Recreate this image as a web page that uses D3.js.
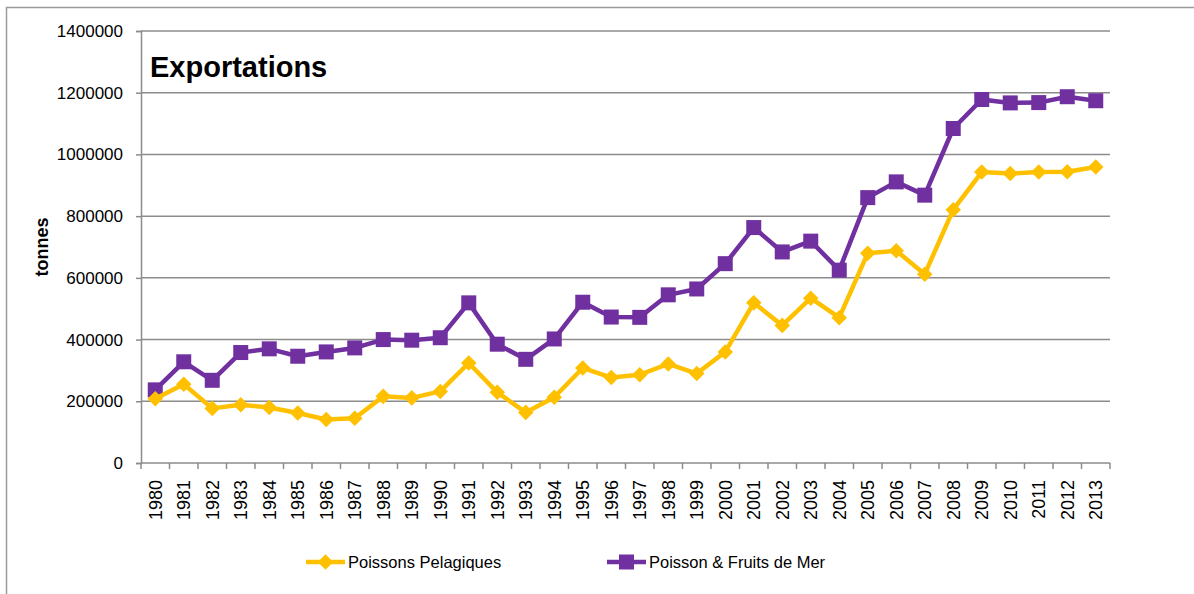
<!DOCTYPE html>
<html>
<head>
<meta charset="utf-8">
<script src="https://cdn.jsdelivr.net/npm/d3@7"></script>
<style>
  body { margin: 0; background: #fff; }
  svg text { font-family: "Liberation Sans", Arial, sans-serif; fill: #000; }
</style>
</head>
<body>
<svg id="chart" width="1194" height="594"></svg>
<script>
const years = d3.range(1980, 2014).map(String)

const pelagiques = [
  208000, 255000, 177000, 189000, 180000, 162000, 141000, 145000, 216000, 211000,
  232000, 324000, 229000, 164000, 213000, 308000, 277000, 286000, 321000, 290000,
  360000, 519000, 446000, 534000, 471000, 680000, 688000, 612000, 821000, 943000,
  938000, 943000, 944000, 959000
]

const fruitsDeMer = [
  237000, 328000, 268000, 358000, 370000, 346000, 360000, 373000, 400000, 398000,
  406000, 519000, 385000, 336000, 402000, 521000, 473000, 472000, 545000, 564000,
  646000, 763000, 684000, 719000, 625000, 860000, 911000, 868000, 1084000, 1178000,
  1167000, 1168000, 1187000, 1174000
]

const yTicks = [0, 200000, 400000, 600000, 800000, 1000000, 1200000, 1400000]

const seriesNames = ["Poissons Pelagiques", "Poisson & Fruits de Mer"]
const colors = ["#FFC000", "#7030A0"]

const svg = d3.select("#chart")
const margin = { left: 141, top: 31, right: 84, bottom: 131 }
const width = 1194 - margin.left - margin.right
const height = 594 - margin.top - margin.bottom

// chart frame
svg.append("rect")
    .attr("x", 6.5).attr("y", 7.5)
    .attr("width", 1200).attr("height", 600)
    .attr("fill", "none").attr("stroke", "#9a9a9a").attr("stroke-width", 1.5)

const g = svg.append("g").attr("transform", `translate(${margin.left},${margin.top})`)

const x = d3.scaleBand().domain(years).range([0, width])
const y = d3.scaleLinear().domain([0, 1400000]).range([height, 0])

// gridlines
g.append("g")
    .selectAll("line")
    .data(yTicks.slice(1))
    .join("line")
    .attr("x1", 0).attr("x2", width)
    .attr("y1", d => y(d)).attr("y2", d => y(d))
    .attr("stroke", "#8c8c8c").attr("stroke-width", 1.5)

// y axis
const yAxis = g.append("g")
    .call(d3.axisLeft(y).tickValues(yTicks).tickSize(5).tickPadding(13).tickFormat(d => d))
yAxis.select(".domain").attr("stroke", "#8c8c8c").attr("stroke-width", 1.5)
yAxis.selectAll(".tick line").attr("stroke", "#8c8c8c").attr("stroke-width", 1.5)
yAxis.selectAll(".tick text").attr("font-size", 17).attr("font-family", null)

// x axis
const xAxis = g.append("g").attr("transform", `translate(0,${height})`)
xAxis.append("line")
    .attr("x1", 0).attr("x2", width)
    .attr("stroke", "#8c8c8c").attr("stroke-width", 1.5)
xAxis.selectAll(".xtick")
    .data(years.concat(["end"]))
    .join("line")
    .attr("class", "xtick")
    .attr("x1", d => d === "end" ? width : x(d))
    .attr("x2", d => d === "end" ? width : x(d))
    .attr("y1", 0).attr("y2", 6)
    .attr("stroke", "#8c8c8c").attr("stroke-width", 1.5)
xAxis.selectAll(".xlabel")
    .data(years)
    .join("text")
    .attr("class", "xlabel")
    .attr("transform", d => `translate(${x(d) + x.bandwidth() / 2},17) rotate(-90)`)
    .attr("text-anchor", "end")
    .attr("dy", "0.35em")
    .attr("font-size", 18)
    .text(d => d)

// axis title
svg.append("text")
    .attr("transform", "translate(48,247) rotate(-90)")
    .attr("text-anchor", "middle")
    .attr("font-size", 18)
    .attr("font-weight", "bold")
    .text("tonnes")

// chart title
svg.append("text")
    .attr("x", 150).attr("y", 77)
    .attr("font-size", 29)
    .attr("font-weight", "bold")
    .text("Exportations")

const line = d3.line()
    .x((d, i) => x(years[i]) + x.bandwidth() / 2)
    .y(d => y(d))

const diamond = d3.symbol().type(d3.symbolSquare).size(121)
const square = d3.symbol().type(d3.symbolSquare).size(225)

function drawSeries(values, color, isDiamond) {
    g.append("path")
        .datum(values)
        .attr("fill", "none")
        .attr("stroke", color)
        .attr("stroke-width", 4.5)
        .attr("stroke-linejoin", "round")
        .attr("d", line)
    g.append("g")
        .selectAll("path")
        .data(values)
        .join("path")
        .attr("transform", (d, i) => `translate(${x(years[i]) + x.bandwidth() / 2},${y(d)})` + (isDiamond ? " rotate(45)" : ""))
        .attr("d", isDiamond ? diamond : square)
        .attr("fill", color)
}

drawSeries(fruitsDeMer, colors[1], false)
drawSeries(pelagiques, colors[0], true)

// legend
const legendItems = [
    { name: seriesNames[0], color: colors[0], x: 306, diamond: true },
    { name: seriesNames[1], color: colors[1], x: 607, diamond: false }
]
const legend = svg.append("g").attr("transform", "translate(0,562)")
legendItems.forEach(item => {
    legend.append("line")
        .attr("x1", item.x).attr("x2", item.x + 39)
        .attr("stroke", item.color).attr("stroke-width", 4.5)
    legend.append("path")
        .attr("transform", `translate(${item.x + 19.5},0)` + (item.diamond ? " rotate(45)" : ""))
        .attr("d", item.diamond ? diamond : square)
        .attr("fill", item.color)
    legend.append("text")
        .attr("x", item.x + 42)
        .attr("dy", "0.35em")
        .attr("font-size", 16.5)
        .text(item.name)
})
</script>
</body>
</html>
